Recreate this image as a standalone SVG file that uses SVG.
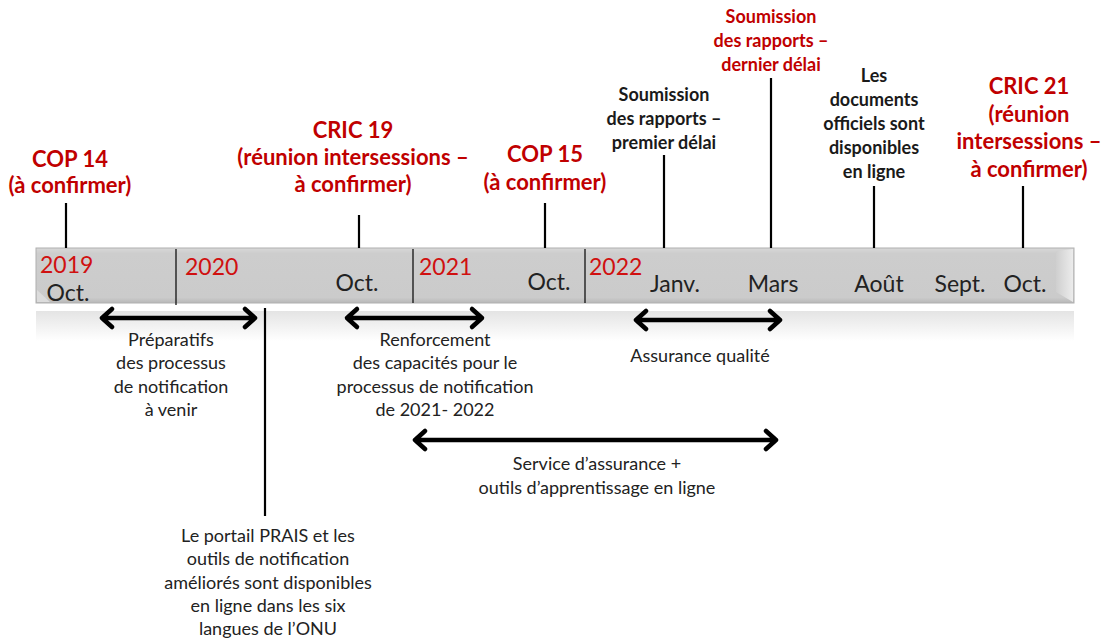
<svg xmlns="http://www.w3.org/2000/svg" width="1102" height="640" viewBox="0 0 1102 640">
<defs>
<style>
text{font-family:Lato,"Open Sans","Liberation Sans",sans-serif;text-anchor:middle}
.red{fill:#c00000;font-weight:bold;font-size:22px}
.blk{fill:#1a1a1a;font-weight:bold;font-size:18px}
.lbl{fill:#222;font-size:18px}
.yr{fill:#d01010;font-size:23px;text-anchor:start}
.mo{fill:#222;font-size:23px}
.tick{stroke:#000;stroke-width:2.2}
.div{stroke:#111;stroke-width:1.3}
.arr{stroke:#000;stroke-width:4.5;fill:none;stroke-linecap:round;stroke-linejoin:round}
</style>
<linearGradient id="bar" x1="0" y1="0" x2="0" y2="1">
<stop offset="0" stop-color="#d8d8d8"/>
<stop offset="0.1" stop-color="#cdcdcd"/>
<stop offset="0.9" stop-color="#cbcbcb"/>
<stop offset="1" stop-color="#b8b8b8"/>
</linearGradient>
<linearGradient id="refl" x1="0" y1="0" x2="0" y2="1">
<stop offset="0" stop-color="#e4e4e4"/>
<stop offset="1" stop-color="#ffffff"/>
</linearGradient>
<linearGradient id="bev" x1="0" y1="0" x2="1" y2="0">
<stop offset="0" stop-color="#cfcfcf"/>
<stop offset="1" stop-color="#ececec"/>
</linearGradient>
</defs>

<g id="timeline-bar">
<rect x="36" y="311" width="1038" height="30" fill="url(#refl)"/>
<rect x="36" y="248" width="1038" height="55" fill="url(#bar)" stroke="#b0b0b0" stroke-width="1"/>
<polygon points="1056,251 1073,249 1073,302 1056,292" fill="url(#bev)"/>
<polygon points="37,302 37,290 50,302" fill="#dcdcdc"/>
<line class="div" x1="176" y1="249" x2="176" y2="305"/>
<line class="div" x1="413" y1="249" x2="413" y2="303"/>
<line class="div" x1="585" y1="249" x2="585" y2="303"/>
<text class="yr" x="40" y="273">2019</text>
<text class="mo" x="68" y="301">Oct.</text>
<text class="yr" x="185" y="275">2020</text>
<text class="mo" x="357" y="291">Oct.</text>
<text class="yr" x="419" y="275">2021</text>
<text class="mo" x="549" y="290">Oct.</text>
<text class="yr" x="589" y="275">2022</text>
<text class="mo" x="675" y="292">Janv.</text>
<text class="mo" x="773" y="292">Mars</text>
<text class="mo" x="879" y="292">Août</text>
<text class="mo" x="960" y="292">Sept.</text>
<text class="mo" x="1025" y="292">Oct.</text>
</g>

<g id="connectors">
<line class="tick" x1="66" y1="203" x2="66" y2="248"/>
<line class="tick" x1="359" y1="215" x2="359" y2="248"/>
<line class="tick" x1="545" y1="203" x2="545" y2="248"/>
<line class="tick" x1="664" y1="155" x2="664" y2="248"/>
<line class="tick" x1="771" y1="78" x2="771" y2="248"/>
<line class="tick" x1="874" y1="186" x2="874" y2="248"/>
<line class="tick" x1="1023" y1="186" x2="1023" y2="248"/>
<line class="tick" x1="265" y1="308" x2="265" y2="516"/>
<g class="arr">
<path d="M102,318 H255 M112,309 L102,318 L112,327 M245,309 L255,318 L245,327"/>
<path d="M347,318 H482 M357,309 L347,318 L357,327 M472,309 L482,318 L472,327"/>
<path d="M636,320 H780 M646,311 L636,320 L646,329 M770,311 L780,320 L770,329"/>
<path d="M415,440 H776 M425,431 L415,440 L425,449 M766,431 L776,440 L766,449"/>
</g>
</g>

<g id="cop14">
<text class="red" x="70" y="167">COP 14</text>
<text class="red" x="70" y="193">(à confirmer)</text>
</g>
<g id="cric19">
<text class="red" x="353" y="138">CRIC 19</text>
<text class="red" x="353" y="165">(réunion intersessions –</text>
<text class="red" x="353" y="192">à confirmer)</text>
</g>
<g id="cop15">
<text class="red" x="545" y="162">COP 15</text>
<text class="red" x="545" y="190">(à confirmer)</text>
</g>
<g id="premier-delai">
<text class="blk" x="664" y="101">Soumission</text>
<text class="blk" x="664" y="125">des rapports –</text>
<text class="blk" x="664" y="149">premier délai</text>
</g>
<g id="dernier-delai">
<text class="blk" x="771" y="23" style="fill:#c00000">Soumission</text>
<text class="blk" x="771" y="47" style="fill:#c00000">des rapports –</text>
<text class="blk" x="771" y="71" style="fill:#c00000">dernier délai</text>
</g>
<g id="documents">
<text class="blk" x="874" y="82">Les</text>
<text class="blk" x="874" y="106">documents</text>
<text class="blk" x="874" y="130">officiels sont</text>
<text class="blk" x="874" y="154">disponibles</text>
<text class="blk" x="874" y="178">en ligne</text>
</g>
<g id="cric21">
<text class="red" x="1029" y="94">CRIC 21</text>
<text class="red" x="1029" y="122">(réunion</text>
<text class="red" x="1029" y="149">intersessions –</text>
<text class="red" x="1029" y="177">à confirmer)</text>
</g>
<g id="preparatifs">
<text class="lbl" x="171" y="346">Préparatifs</text>
<text class="lbl" x="171" y="369">des processus</text>
<text class="lbl" x="171" y="393">de notification</text>
<text class="lbl" x="171" y="416">à venir</text>
</g>
<g id="renforcement">
<text class="lbl" x="435" y="346">Renforcement</text>
<text class="lbl" x="435" y="369">des capacités pour le</text>
<text class="lbl" x="435" y="393">processus de notification</text>
<text class="lbl" x="435" y="416">de 2021- 2022</text>
</g>
<g id="assurance">
<text class="lbl" x="700" y="362">Assurance qualité</text>
</g>
<g id="service">
<text class="lbl" x="597" y="470">Service d’assurance +</text>
<text class="lbl" x="597" y="494">outils d’apprentissage en ligne</text>
</g>
<g id="prais">
<text class="lbl" x="268" y="542">Le portail PRAIS et les</text>
<text class="lbl" x="268" y="565">outils de notification</text>
<text class="lbl" x="268" y="589">améliorés sont disponibles</text>
<text class="lbl" x="268" y="612">en ligne dans les six</text>
<text class="lbl" x="268" y="635">langues de l’ONU</text>
</g>
</svg>
